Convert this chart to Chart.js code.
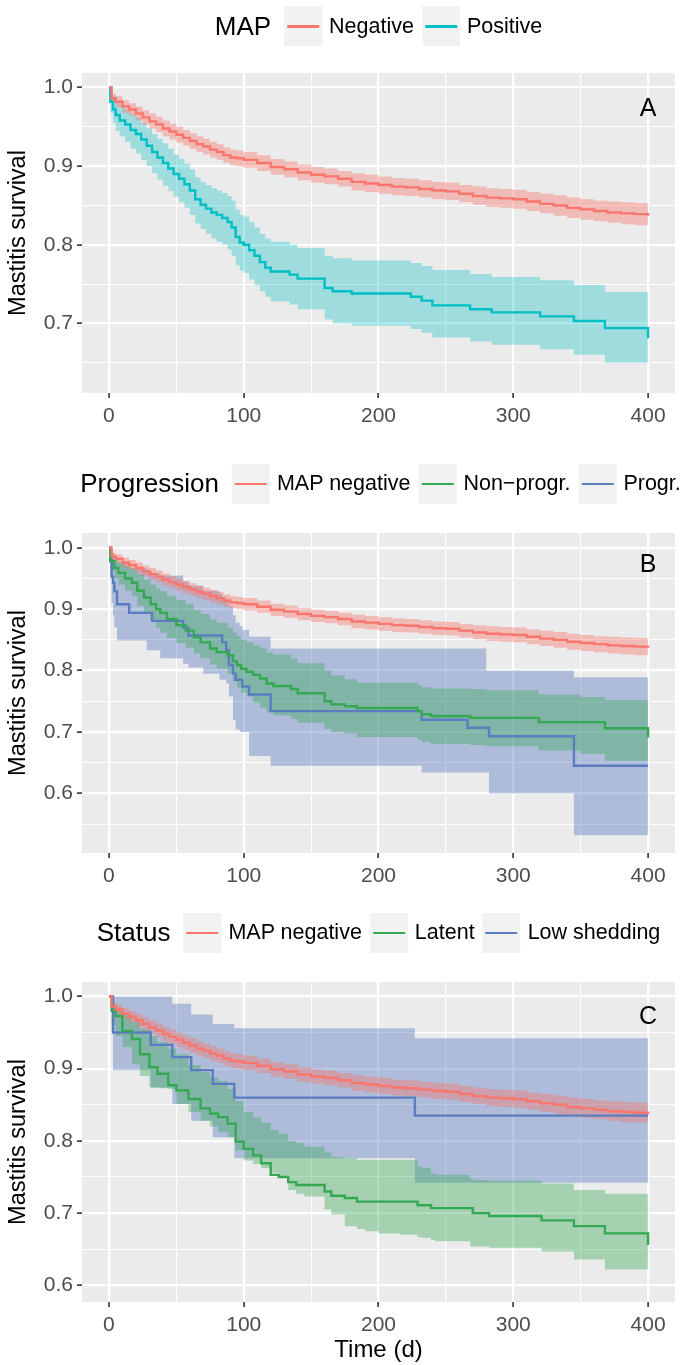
<!DOCTYPE html>
<html><head><meta charset="utf-8">
<script src="https://cdn.jsdelivr.net/npm/chart.js@4.4.1/dist/chart.umd.min.js"></script>
<style>
html,body{margin:0;padding:0;background:#fff;}
body{width:681px;height:1365px;position:relative;overflow:hidden;font-family:"Liberation Sans",Arial,Helvetica,sans-serif;}
canvas.cv{position:absolute;left:0;}
.legend{position:absolute;display:flex;align-items:center;white-space:nowrap;transform:translate(-50%,-50%);z-index:2;}
.ltitle{font-size:26px;color:#000;margin-right:13px;}
.key{width:38px;height:40px;background:#F2F2F2;position:relative;margin-right:7px;flex:none;}
.key i{position:absolute;left:3px;right:3px;top:19px;height:2.5px;}
.llab{font-size:21.5px;color:#000;margin-right:8px;}
.llab:last-child{margin-right:0;}
</style></head><body>
<canvas id="cA" class="cv" width="681" height="455" style="top:0px;width:681px;height:455px"></canvas>
<canvas id="cB" class="cv" width="681" height="455" style="top:455px;width:681px;height:455px"></canvas>
<canvas id="cC" class="cv" width="681" height="455" style="top:910px;width:681px;height:455px"></canvas>
<div id="legA" class="legend" style="left:378.5px;top:26px"></div>
<div id="legB" class="legend" style="left:380.5px;top:483.5px"></div>
<div id="legC" class="legend" style="left:378.5px;top:932.5px"></div>
<script>
// ---------- DATA ----------
// MAP negative (same curve in all three panels)
const negT  = [0,2,5,10,15,20,25,30,35,40,45,50,55,60,65,70,75,80,85,90,95,100,110,120,130,140,150,160,170,180,190,200,210,220,230,240,250,260,270,280,290,300,310,320,330,340,350,360,370,380,390,400];
const negS  = [1.0,0.986,0.982,0.976,0.972,0.967,0.962,0.957,0.953,0.948,0.944,0.940,0.936,0.932,0.928,0.925,0.921,0.918,0.914,0.911,0.910,0.908,0.904,0.899,0.896,0.892,0.889,0.887,0.884,0.880,0.878,0.876,0.874,0.873,0.871,0.869,0.868,0.865,0.862,0.860,0.859,0.858,0.855,0.852,0.850,0.847,0.845,0.843,0.841,0.840,0.839,0.837];
const negUp = [1.0,0.992,0.989,0.984,0.980,0.976,0.971,0.967,0.963,0.958,0.954,0.950,0.946,0.942,0.938,0.935,0.931,0.928,0.924,0.921,0.920,0.918,0.914,0.909,0.906,0.902,0.899,0.897,0.894,0.891,0.889,0.887,0.885,0.884,0.882,0.880,0.879,0.876,0.874,0.872,0.871,0.870,0.867,0.865,0.863,0.860,0.858,0.856,0.855,0.854,0.853,0.852];
const negLo = [1.0,0.980,0.975,0.968,0.964,0.958,0.953,0.948,0.943,0.938,0.934,0.930,0.926,0.922,0.918,0.915,0.911,0.908,0.904,0.901,0.900,0.898,0.894,0.889,0.886,0.882,0.879,0.877,0.874,0.869,0.867,0.865,0.863,0.862,0.860,0.858,0.857,0.854,0.851,0.848,0.847,0.846,0.843,0.840,0.837,0.834,0.832,0.830,0.828,0.826,0.825,0.822];

// Panel A: MAP positive
const posT  = [0,1,3,5,8,12,16,20,24,28,32,36,40,44,48,52,56,60,64,68,72,76,80,84,88,91,94,97,100,104,108,112,116,120,134,140,160,166,180,224,232,240,268,284,320,345,368,400];
const posS  = [1.0,0.982,0.972,0.965,0.958,0.953,0.946,0.941,0.934,0.926,0.918,0.911,0.904,0.897,0.890,0.884,0.877,0.869,0.858,0.851,0.846,0.841,0.838,0.834,0.829,0.822,0.810,0.803,0.800,0.793,0.786,0.778,0.771,0.766,0.762,0.757,0.745,0.741,0.738,0.734,0.729,0.723,0.718,0.714,0.709,0.703,0.694,0.681];
const posUp = [1.0,0.995,0.990,0.983,0.978,0.972,0.966,0.962,0.955,0.948,0.941,0.935,0.929,0.922,0.915,0.909,0.903,0.896,0.886,0.880,0.876,0.872,0.869,0.866,0.862,0.856,0.845,0.838,0.836,0.829,0.822,0.814,0.808,0.804,0.800,0.796,0.786,0.783,0.780,0.777,0.773,0.768,0.763,0.759,0.755,0.749,0.740,0.737];
const posLo = [1.0,0.968,0.955,0.945,0.938,0.931,0.922,0.916,0.908,0.900,0.891,0.883,0.875,0.868,0.861,0.854,0.847,0.838,0.827,0.820,0.814,0.808,0.804,0.800,0.794,0.786,0.774,0.767,0.764,0.756,0.749,0.741,0.734,0.728,0.724,0.718,0.705,0.700,0.697,0.693,0.688,0.682,0.677,0.673,0.667,0.660,0.650,0.632];

// Panel B: non-progressors
const nonT  = [0,1,4,7,12,17,21,26,31,35,38,43,50,57,63,68,75,80,88,92,95,98,102,107,112,117,122,135,140,160,165,175,184,229,232,239,268,280,319,350,368,400];
const nonS  = [1.0,0.978,0.967,0.959,0.950,0.943,0.930,0.919,0.908,0.900,0.894,0.884,0.874,0.865,0.854,0.846,0.836,0.830,0.825,0.815,0.809,0.803,0.798,0.793,0.787,0.779,0.775,0.770,0.763,0.750,0.745,0.742,0.739,0.734,0.729,0.726,0.723,0.723,0.716,0.716,0.706,0.691];
const nonUp = [1.0,0.992,0.985,0.978,0.970,0.964,0.957,0.948,0.940,0.934,0.929,0.922,0.915,0.908,0.899,0.892,0.883,0.878,0.870,0.862,0.856,0.850,0.846,0.841,0.836,0.830,0.826,0.820,0.812,0.800,0.792,0.786,0.780,0.776,0.773,0.771,0.770,0.768,0.761,0.757,0.752,0.752];
const nonLo = [1.0,0.962,0.950,0.940,0.930,0.921,0.905,0.893,0.880,0.870,0.862,0.853,0.845,0.837,0.828,0.820,0.810,0.803,0.795,0.782,0.772,0.764,0.758,0.748,0.740,0.732,0.727,0.721,0.715,0.705,0.700,0.697,0.692,0.687,0.684,0.681,0.679,0.677,0.670,0.664,0.653,0.634];

// Panel B: progressors
const proT  = [0,1,2,3,4,6,15,28,32,38,55,59,70,82,84,87,89,92,94,97,99,104,120,232,266,280,282,345,400];
const proS  = [1.0,0.980,0.953,0.943,0.929,0.908,0.894,0.894,0.881,0.881,0.870,0.857,0.857,0.857,0.846,0.833,0.809,0.795,0.785,0.785,0.774,0.761,0.734,0.720,0.707,0.707,0.693,0.645,0.645];
const proUp = [1.0,0.998,0.992,0.987,0.982,0.975,0.967,0.962,0.958,0.955,0.945,0.938,0.930,0.925,0.920,0.915,0.905,0.890,0.878,0.872,0.866,0.855,0.836,0.836,0.836,0.800,0.800,0.789,0.789];
const proLo = [1.0,0.950,0.910,0.890,0.870,0.849,0.849,0.833,0.833,0.820,0.811,0.805,0.795,0.785,0.785,0.779,0.758,0.720,0.704,0.700,0.700,0.661,0.645,0.634,0.634,0.634,0.600,0.532,0.532];

// Panel C: latent
const latT  = [0,2,5,10,17,23,30,36,44,50,59,68,75,81,88,94,100,107,113,120,126,133,139,145,160,165,175,184,190,200,216,229,232,239,242,268,270,282,321,345,368,400];
const latS  = [1.0,0.980,0.973,0.952,0.941,0.920,0.902,0.893,0.877,0.870,0.858,0.845,0.838,0.833,0.824,0.799,0.789,0.780,0.769,0.753,0.750,0.743,0.739,0.739,0.730,0.724,0.721,0.716,0.716,0.716,0.716,0.711,0.711,0.707,0.707,0.707,0.700,0.696,0.690,0.682,0.672,0.656];
const latUp = [1.0,0.990,0.983,0.975,0.965,0.955,0.945,0.937,0.928,0.920,0.905,0.895,0.888,0.883,0.872,0.855,0.840,0.832,0.825,0.815,0.810,0.800,0.797,0.792,0.784,0.778,0.776,0.774,0.774,0.774,0.774,0.765,0.763,0.755,0.753,0.748,0.746,0.745,0.741,0.732,0.727,0.720];
const latLo = [1.0,0.960,0.945,0.930,0.906,0.890,0.874,0.873,0.872,0.851,0.840,0.828,0.820,0.812,0.805,0.787,0.773,0.768,0.762,0.756,0.750,0.732,0.727,0.723,0.705,0.698,0.682,0.678,0.675,0.672,0.670,0.667,0.666,0.663,0.661,0.654,0.654,0.652,0.647,0.636,0.622,0.599];

// Panel C: low shedding
const lowT  = [0,3,31,47,61,77,93,227,400];
const lowS  = [1.0,0.950,0.933,0.916,0.898,0.879,0.860,0.835,0.835];
const lowUp = [1.0,1.0,1.0,0.990,0.975,0.962,0.956,0.942,0.942];
const lowLo = [1.0,0.898,0.874,0.851,0.828,0.805,0.776,0.742,0.742];

// axes
const xMajor = [0,100,200,300,400];
const xMinor = [50,150,250,350];
const xLimits = [-20,420];
const yMajorA = [0.7,0.8,0.9,1.0];
const yMinorA = [0.65,0.75,0.85,0.95];
const yMajorB = [0.6,0.7,0.8,0.9,1.0];
const yMinorB = [0.55,0.65,0.75,0.85,0.95];
const yMajorC = [0.6,0.7,0.8,0.9,1.0];
const yMinorC = [0.65,0.75,0.85,0.95];
const yLimitsA = [0.6115,1.0185];
const yLimitsB = [0.503,1.024];
const yLimitsC = [0.577,1.020];

// legends / labels
const legendTitles = ['MAP','Progression','Status'];
const legendLabelsA = ['Negative','Positive'];
const legendLabelsB = ['MAP negative','Non\u2212progr.','Progr.'];
const legendLabelsC = ['MAP negative','Latent','Low shedding'];
const panelLetters = ['A','B','C'];
const letterPos = [400, 0.972];
const yTitle = 'Mastitis survival';
const xTitle = 'Time (d)';

// colours
const RED = '#F8766D', TEAL = '#00BFC4', GREEN = '#35A853', BLUE = '#5B7DC0';
const RED_F = 'rgba(248,118,109,0.42)', TEAL_F = 'rgba(0,191,196,0.32)', GREEN_F = 'rgba(53,168,83,0.38)', BLUE_F = 'rgba(91,125,192,0.42)';

// ---------- BUILD ----------
const FONT = '"Liberation Sans", Arial, Helvetica, sans-serif';
function pts(t, v) { return t.map((x, i) => ({ x: x, y: v[i] })); }
function isMajorX(v) { return xMajor.indexOf(v) >= 0; }
function isMajorY(v) { return Math.abs(v * 10 - Math.round(v * 10)) < 1e-6; }

const bgPlugin = {
  id: 'panelBg',
  beforeDraw(chart) {
    const a = chart.chartArea, c = chart.ctx;
    c.save(); c.fillStyle = '#EBEBEB'; c.fillRect(a.left, a.top, a.right - a.left, a.bottom - a.top); c.restore();
  }
};
const letterPlugin = {
  id: 'panelLetter',
  afterDatasetsDraw(chart, args, opts) {
    const c = chart.ctx;
    const x = chart.scales.x.getPixelForValue(letterPos[0]);
    const y = chart.scales.y.getPixelForValue(letterPos[1]);
    c.save(); c.fillStyle = '#000'; c.font = '25px ' + FONT; c.textAlign = 'center'; c.textBaseline = 'middle';
    c.fillText(opts.text, x, y); c.restore();
  }
};

function makeChart(id, groups, yLim, yMaj, yMin, letter, padTop, xAxisH, showXTitle) {
  const ds = [];
  groups.forEach(g => {
    ds.push({ label: g.name + ' upper', data: pts(g.t, g.up), fill: '+1', backgroundColor: g.fill, borderWidth: 0, pointRadius: 0, stepped: true, order: 2 });
    ds.push({ label: g.name + ' lower', data: pts(g.t, g.lo), fill: false, borderWidth: 0, pointRadius: 0, stepped: true, order: 2 });
  });
  groups.forEach(g => {
    ds.push({ label: g.name, data: pts(g.t, g.s), fill: false, borderColor: g.color, borderWidth: 2.4, pointRadius: 0, stepped: true, order: 1 });
  });
  return new Chart(document.getElementById(id), {
    type: 'line',
    data: { datasets: ds },
    plugins: [bgPlugin, letterPlugin],
    options: {
      responsive: false, animation: false, devicePixelRatio: 1,
      layout: { padding: { top: padTop, right: 6, left: 0, bottom: 0 } },
      plugins: { legend: { display: false }, tooltip: { enabled: false }, panelLetter: { text: letter } },
      scales: {
        x: {
          type: 'linear', min: xLimits[0], max: xLimits[1],
          afterBuildTicks(s) { s.ticks = xMajor.concat(xMinor).sort((a, b) => a - b).map(v => ({ value: v })); },
          afterFit(s) { s.height = xAxisH; },
          border: { display: false },
          grid: {
            color: '#FFFFFF',
            lineWidth: c => (c.tick && isMajorX(c.tick.value)) ? 2.2 : 1.1,
            tickColor: c => (c.tick && isMajorX(c.tick.value)) ? '#333333' : 'rgba(0,0,0,0)',
            tickLength: 5, tickWidth: 1.6
          },
          ticks: {
            autoSkip: false, maxRotation: 0, padding: 6, color: '#4D4D4D',
            font: { family: FONT, size: 21 },
            callback: v => isMajorX(v) ? String(v) : ''
          },
          title: { display: showXTitle, text: xTitle, color: '#000', font: { family: FONT, size: 24 }, padding: { top: 0, bottom: 0 } }
        },
        y: {
          type: 'linear', min: yLim[0], max: yLim[1],
          afterBuildTicks(s) { s.ticks = yMaj.concat(yMin).sort((a, b) => a - b).map(v => ({ value: v })); },
          afterFit(s) { s.width = 82; },
          border: { display: false },
          grid: {
            color: '#FFFFFF',
            lineWidth: c => (c.tick && isMajorY(c.tick.value)) ? 2.2 : 1.1,
            tickColor: c => (c.tick && isMajorY(c.tick.value)) ? '#333333' : 'rgba(0,0,0,0)',
            tickLength: 5, tickWidth: 1.6
          },
          ticks: {
            autoSkip: false, padding: 4, color: '#4D4D4D',
            font: { family: FONT, size: 21 },
            callback: v => isMajorY(v) ? v.toFixed(1) : ''
          },
          title: { display: true, text: yTitle, color: '#000', font: { family: FONT, size: 23.5 }, padding: { top: 4, bottom: 0 } }
        }
      }
    }
  });
}

const negGroup = { name: 'MAP negative', t: negT, s: negS, up: negUp, lo: negLo, color: RED, fill: RED_F };

makeChart('cA', [
  negGroup,
  { name: 'Positive', t: posT, s: posS, up: posUp, lo: posLo, color: TEAL, fill: TEAL_F }
], yLimitsA, yMajorA, yMinorA, panelLetters[0], 73, 62, false);

makeChart('cB', [
  negGroup,
  { name: 'Non-progr.', t: nonT, s: nonS, up: nonUp, lo: nonLo, color: GREEN, fill: GREEN_F },
  { name: 'Progr.', t: proT, s: proS, up: proUp, lo: proLo, color: BLUE, fill: BLUE_F }
], yLimitsB, yMajorB, yMinorB, panelLetters[1], 78, 57, false);

makeChart('cC', [
  negGroup,
  { name: 'Latent', t: latT, s: latS, up: latUp, lo: latLo, color: GREEN, fill: GREEN_F },
  { name: 'Low shedding', t: lowT, s: lowS, up: lowUp, lo: lowLo, color: BLUE, fill: BLUE_F }
], yLimitsC, yMajorC, yMinorC, panelLetters[2], 72, 63, true);

// ---------- HTML legends ----------
function buildLegend(id, title, labels, colors) {
  const el = document.getElementById(id);
  let h = '<span class="ltitle">' + title + '</span>';
  labels.forEach((l, i) => {
    h += '<span class="key"><i style="background:' + colors[i] + '"></i></span><span class="llab">' + l + '</span>';
  });
  el.innerHTML = h;
}
buildLegend('legA', legendTitles[0], legendLabelsA, [RED, TEAL]);
buildLegend('legB', legendTitles[1], legendLabelsB, [RED, GREEN, BLUE]);
buildLegend('legC', legendTitles[2], legendLabelsC, [RED, GREEN, BLUE]);
</script>
</body></html>
